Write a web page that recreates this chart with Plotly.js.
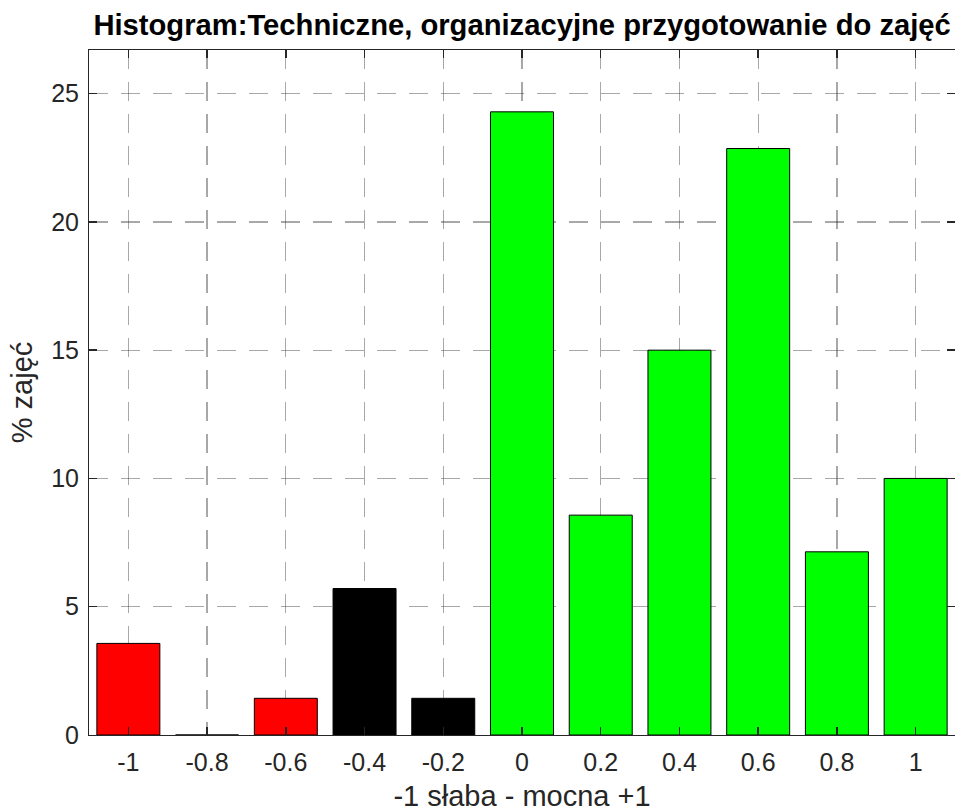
<!DOCTYPE html>
<html>
<head>
<meta charset="utf-8">
<script src="https://cdn.plot.ly/plotly-3.0.1.min.js"></script>
<style>html,body{margin:0;padding:0;background:#fff;}#chart{width:955px;height:812px;}</style>
</head>
<body>
<div id="chart"></div>
<script>
const categories = [-1, -0.8, -0.6, -0.4, -0.2, 0, 0.2, 0.4, 0.6, 0.8, 1];
const percentValues = [3.57, 0, 1.43, 5.71, 1.43, 24.29, 8.57, 15.0, 22.86, 7.14, 10.0];
const barColors = ['#ff0000', '#ff0000', '#ff0000', '#000000', '#000000', '#00ff00', '#00ff00', '#00ff00', '#00ff00', '#00ff00', '#00ff00'];
const xTickVals = [-1, -0.8, -0.6, -0.4, -0.2, 0, 0.2, 0.4, 0.6, 0.8, 1];
const xTickText = ['-1', '-0.8', '-0.6', '-0.4', '-0.2', '0', '0.2', '0.4', '0.6', '0.8', '1'];
const yTickVals = [0, 5, 10, 15, 20, 25];
const yTickText = ['0', '5', '10', '15', '20', '25'];

const trace = {
  type: 'bar',
  x: categories,
  y: percentValues,
  width: 0.16,
  marker: {color: barColors, line: {color: '#000000', width: 1}},
  hoverinfo: 'x+y'
};

const FONT = 'Liberation Sans, Arial, sans-serif';
const axisCommon = {
  showline: true, linecolor: '#262626', linewidth: 1, mirror: 'ticks',
  ticks: 'inside', ticklen: 8, tickwidth: 1.5, tickcolor: '#262626',
  showgrid: true, gridcolor: 'rgba(38,38,38,0.4)', gridwidth: 1.3, griddash: '19px,13px',
  zeroline: false,
  tickfont: {family: FONT, size: 25, color: '#262626'}
};

const layout = {
  width: 955, height: 812,
  margin: {l: 89, r: 0, t: 50, b: 77},
  paper_bgcolor: '#ffffff', plot_bgcolor: '#ffffff',
  showlegend: false,
  title: {
    text: 'Histogram:Techniczne, organizacyjne przygotowanie do zajęć',
    font: {family: FONT, size: 29.2, color: '#000000', weight: 'bold'},
    x: 0.5467, xanchor: 'center', y: 0.970, yanchor: 'middle'
  },
  xaxis: Object.assign({}, axisCommon, {
    range: [-1.1, 1.1], tickvals: xTickVals, ticktext: xTickText, ticklabelstandoff: 5,
    title: {text: '-1 słaba - mocna +1', font: {family: FONT, size: 29, color: '#262626'}, standoff: 14}
  }),
  yaxis: Object.assign({}, axisCommon, {
    range: [0, 26.7], tickvals: yTickVals, ticktext: yTickText, ticklabelstandoff: 4,
    title: {text: '% zajęć', font: {family: FONT, size: 29, color: '#262626'}, standoff: 10}
  })
};

Plotly.newPlot('chart', [trace], layout, {displayModeBar: false, staticPlot: true});
</script>
</body>
</html>
